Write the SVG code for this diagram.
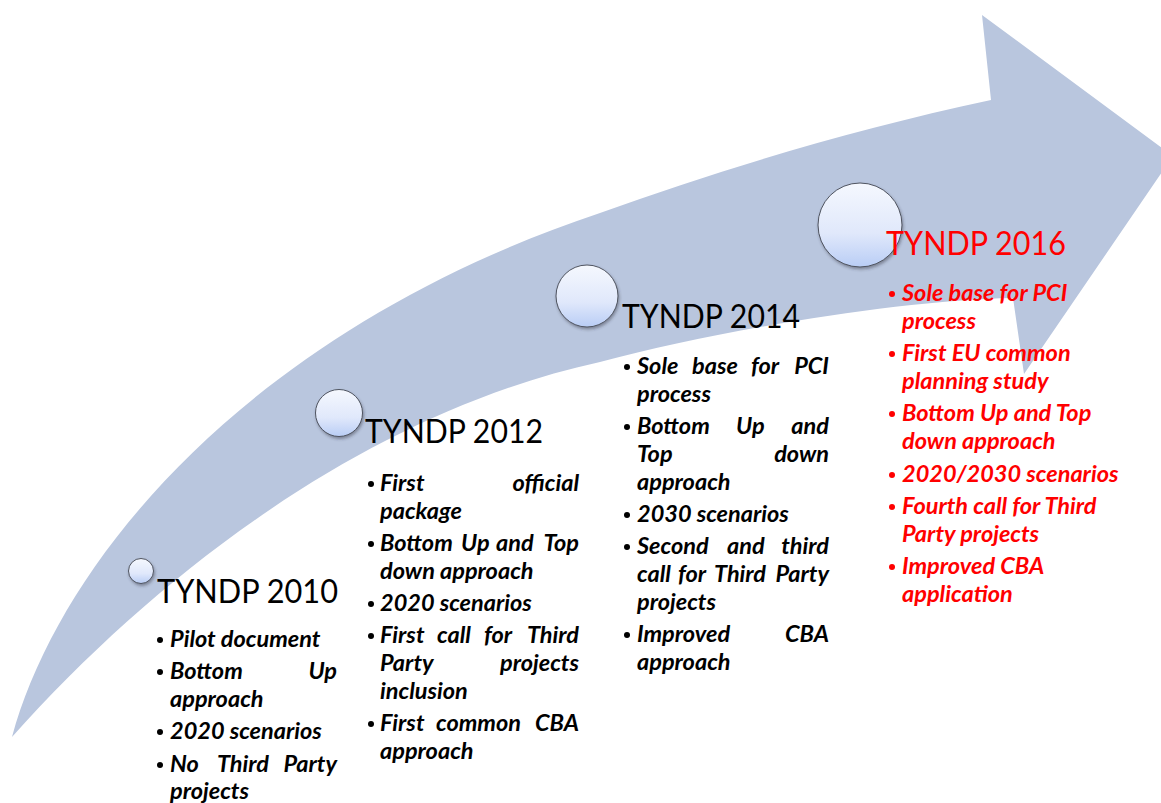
<svg xmlns="http://www.w3.org/2000/svg" width="1161" height="803" viewBox="0 0 1161 803">
<defs>
<linearGradient id="dotGrad" x1="0" y1="0" x2="0" y2="1">
<stop offset="0" stop-color="#f5f8fe"/>
<stop offset="0.6" stop-color="#e0e8fb"/>
<stop offset="1" stop-color="#b9cdf5"/>
</linearGradient>
<filter id="sh" x="-30%" y="-30%" width="170%" height="170%">
<feDropShadow dx="1" dy="2" stdDeviation="1.5" flood-color="#30353f" flood-opacity="0.45"/>
</filter>
<style>
.band{fill:#b9c6de}
.dot{fill:url(#dotGrad);stroke:#4f5460;stroke-width:1;filter:url(#sh)}
.h{font-family:Lato,"Liberation Sans",sans-serif;font-size:32px;fill:#000}
.b{font-family:Lato,"Liberation Sans",sans-serif;font-size:23.5px;font-style:italic;font-weight:bold;fill:#000}
.e{text-anchor:end}
.m{text-anchor:middle}
.bul{fill:#000}
.red .h,.red .b,.red .bul{fill:#ff0000}
</style>
</defs>
<rect width="1161" height="803" fill="#ffffff"/>
<g id="arrow">
<path class="band" d="M12,737 C60,560 250,330 600,213 C720,170 850,130 991,100 L982,15 L1173,156 L1024,374 L1013,298 C900,300 720,330 600,362 C380,410 170,560 12,737 Z"/>
</g>
<g id="connectors"></g>

<g id="node-2010">
<circle class="dot" cx="141" cy="571" r="12.5"/>
<text class="h" x="157" y="603" textLength="181" lengthAdjust="spacingAndGlyphs">TYNDP 2010</text>
<circle class="bul" cx="160" cy="640" r="3"/>
<text class="b" x="170" y="647">Pilot document</text>
<circle class="bul" cx="160" cy="672" r="3"/>
<text class="b" x="170" y="679">Bottom</text>
<text class="b e" x="337" y="679">Up</text>
<text class="b" x="170" y="707">approach</text>
<circle class="bul" cx="160" cy="732" r="3"/>
<text class="b" x="170" y="739">2020 scenarios</text>
<circle class="bul" cx="160" cy="765" r="3"/>
<text class="b" x="170" y="772">No</text>
<text class="b m" x="243" y="772">Third</text>
<text class="b e" x="337" y="772">Party</text>
<text class="b" x="170" y="799">projects</text>
</g>

<g id="node-2012">
<circle class="dot" cx="339" cy="413" r="23.5"/>
<text class="h" x="365" y="443" textLength="178" lengthAdjust="spacingAndGlyphs">TYNDP 2012</text>
<circle class="bul" cx="371" cy="484" r="3"/>
<text class="b" x="380" y="491">First</text>
<text class="b e" x="579" y="491">official</text>
<text class="b" x="380" y="519">package</text>
<circle class="bul" cx="371" cy="544" r="3"/>
<text class="b" x="380" y="551">Bottom</text>
<text class="b" x="461" y="551">Up</text>
<text class="b" x="496" y="551">and</text>
<text class="b e" x="579" y="551">Top</text>
<text class="b" x="380" y="579">down approach</text>
<circle class="bul" cx="371" cy="604" r="3"/>
<text class="b" x="380" y="611">2020 scenarios</text>
<circle class="bul" cx="371" cy="636" r="3"/>
<text class="b" x="380" y="643">First</text>
<text class="b" x="437" y="643">call</text>
<text class="b" x="484" y="643">for</text>
<text class="b e" x="579" y="643">Third</text>
<text class="b" x="380" y="671">Party</text>
<text class="b e" x="579" y="671">projects</text>
<text class="b" x="380" y="699">inclusion</text>
<circle class="bul" cx="371" cy="724" r="3"/>
<text class="b" x="380" y="731">First</text>
<text class="b" x="436" y="731">common</text>
<text class="b e" x="579" y="731">CBA</text>
<text class="b" x="380" y="759">approach</text>
</g>

<g id="node-2014">
<circle class="dot" cx="587" cy="296" r="31"/>
<text class="h" x="622" y="328" textLength="178" lengthAdjust="spacingAndGlyphs">TYNDP 2014</text>
<circle class="bul" cx="627" cy="367" r="3"/>
<text class="b" x="637" y="374">Sole</text>
<text class="b" x="692" y="374">base</text>
<text class="b" x="751" y="374">for</text>
<text class="b e" x="829" y="374">PCI</text>
<text class="b" x="637" y="402">process</text>
<circle class="bul" cx="627" cy="427" r="3"/>
<text class="b" x="637" y="434">Bottom</text>
<text class="b" x="736" y="434">Up</text>
<text class="b e" x="829" y="434">and</text>
<text class="b" x="637" y="462">Top</text>
<text class="b e" x="829" y="462">down</text>
<text class="b" x="637" y="490">approach</text>
<circle class="bul" cx="627" cy="515" r="3"/>
<text class="b" x="637" y="522">2030 scenarios</text>
<circle class="bul" cx="627" cy="547" r="3"/>
<text class="b" x="637" y="554">Second</text>
<text class="b" x="727" y="554">and</text>
<text class="b e" x="829" y="554">third</text>
<text class="b" x="637" y="582">call</text>
<text class="b" x="678" y="582">for</text>
<text class="b" x="714" y="582">Third</text>
<text class="b e" x="829" y="582">Party</text>
<text class="b" x="637" y="610">projects</text>
<circle class="bul" cx="627" cy="635" r="3"/>
<text class="b" x="637" y="642">Improved</text>
<text class="b e" x="829" y="642">CBA</text>
<text class="b" x="637" y="670">approach</text>
</g>

<g id="node-2016" class="red">
<circle class="dot" cx="860" cy="225" r="42"/>
<text class="h" x="886" y="255" textLength="180" lengthAdjust="spacingAndGlyphs">TYNDP 2016</text>
<circle class="bul" cx="892" cy="294" r="3"/>
<text class="b" x="902" y="301">Sole base for PCI</text>
<text class="b" x="902" y="329">process</text>
<circle class="bul" cx="892" cy="354" r="3"/>
<text class="b" x="902" y="361">First EU common</text>
<text class="b" x="902" y="389">planning study</text>
<circle class="bul" cx="892" cy="414" r="3"/>
<text class="b" x="902" y="421">Bottom Up and Top</text>
<text class="b" x="902" y="449">down approach</text>
<circle class="bul" cx="892" cy="475" r="3"/>
<text class="b" x="902" y="482">2020/2030 scenarios</text>
<circle class="bul" cx="892" cy="507" r="3"/>
<text class="b" x="902" y="514">Fourth call for Third</text>
<text class="b" x="902" y="542">Party projects</text>
<circle class="bul" cx="892" cy="567" r="3"/>
<text class="b" x="902" y="574">Improved CBA</text>
<text class="b" x="902" y="602">application</text>
</g>
</svg>
